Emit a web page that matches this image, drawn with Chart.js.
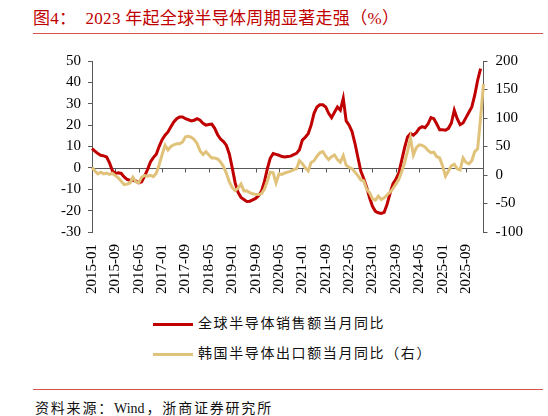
<!DOCTYPE html>
<html>
<head>
<meta charset="utf-8">
<script src="https://cdn.jsdelivr.net/npm/chart.js@4"></script>
<style>
  body { margin: 0; background: #fff; }
  #page { position: relative; width: 548px; height: 416px; overflow: hidden; font-family: "Liberation Serif", "Noto Sans CJK SC", serif; }
  #title { position: absolute; left: 33px; top: 4px; font-size: 17px; color: #C00000; white-space: pre; letter-spacing: 0.3px; }
  .rule { position: absolute; left: 33px; width: 510px; height: 1px; background: #D9534F; }
  #wrap { position: absolute; left: 0; top: 40px; width: 548px; height: 270px; }
  #legend { position: absolute; left: 153px; top: 314px; }
  .item { position: relative; height: 30px; font-size: 14px; letter-spacing: 1.6px; color: #111; }
  .item i { position: absolute; left: 0; top: 9px; width: 40px; height: 3px; }
  .item span { position: absolute; left: 45px; top: 0; line-height: 20px; white-space: nowrap; }
  #source { position: absolute; left: 35px; top: 397px; font-size: 14px; letter-spacing: 1.8px; color: #111; white-space: nowrap; }
  #source b { font-weight: normal; letter-spacing: 0; margin-right: 2px; }
</style>
</head>
<body>
<div id="page">
  <div id="title">图4：  2023 年起全球半导体周期显著走强（%）</div>
  <div class="rule" style="top:33px"></div>
  <div id="wrap"><canvas id="chart"></canvas></div>
  <div id="legend"></div>
  <div class="rule" style="top:389px"></div>
  <div id="source">资料来源：<b>Wind</b>，浙商证券研究所</div>
</div>
<script>
// 月份 2015-01 ~ 2026-03
const months = [];
for (let y = 2015; y <= 2026; y++) {
  for (let m = 1; m <= 12; m++) {
    if (months.length < 135) months.push(y + "-" + String(m).padStart(2, "0"));
  }
}

// 全球半导体销售额当月同比（左轴，%）
const globalSales = [
  9, 7.8, 6.7, 5.9, 5.6, 5.1, 2.3, -1.4, -2.6, -2.3,
  -2.6, -4.2, -5.4, -5.8, -5.8, -6.1, -7, -6.5, -3.9, -0.8,
  2.8, 4.8, 6.4, 10.1, 13.2, 15.3, 16.8, 19.2, 21.5, 23,
  23.8, 23.8, 23, 22.5, 22, 22.3, 23, 22.3, 20.8, 20,
  20.3, 20.5, 18.5, 15.5, 13.5, 12.3, 10.5, 6.5, 0, -7,
  -11.5, -13.8, -14.8, -15.7, -15.6, -15, -14.3, -13, -11, -6.5,
  -0.5, 4.5, 6.7, 6.3, 5.9, 5.3, 5.1, 5.3, 5.5, 6.2,
  6.8, 8.5, 13, 14.3, 16, 20, 25.5, 28.5, 29.5, 29.5,
  28.5, 25.5, 23.5, 26, 28.5, 27, 32.5, 22, 20, 17,
  11.5, 5, -1.5, -5, -9, -14, -18, -20.3, -21, -21.3,
  -20.8, -17, -12, -7.5, -5.3, -2.5, 3.5, 9.5, 14.5, 16,
  15.3, 16.5, 18.5, 19.3, 18.8, 20.5, 23.5, 23, 20.5, 17.8,
  17.8, 17.6, 18.5, 21, 27, 23, 20.2, 21, 23.5, 26,
  28.5, 34, 41, 46.4
];

// 韩国半导体出口额当月同比（右轴，%）
const koreaExports = [
  13, 7, 2, 5, 2, 3.5, 1, 3, -1, -5,
  -11, -17, -16, -14, -4, -12, -13.5, -4, -1, -2,
  -0.5, -3, 3, 18, 36, 52, 44, 50, 53, 54.7,
  55, 58, 67, 68, 66, 62, 55, 42, 36, 41,
  35, 30, 30, 28, 23, 15, 3, -12, -22, -27,
  -23, -16, -28, -27.5, -31, -33, -34, -34.4, -33, -25,
  -11, 5, 4, -13.8, 2, 1, 3.5, 5, 6.6, 9.5,
  11, 25, 20, 12.5, 7, 22, 25, 33, 39, 41,
  33, 27, 32, 35, 27, 22.5, 34, 17, 13.6, 11,
  5, -1, -8.5, -10, -25, -31, -42, -44, -37, -43,
  -40, -35, -30, -24, -16, -8, 6, 22, 42, 65,
  35, 48, 53, 52, 49, 43, 39, 40, 32, 30,
  16, -2, 7, 16, 19, 11, 9, 30, 22, 19.5,
  25, 41, 46, 100, 160
];

const seriesNames = ["全球半导体销售额当月同比", "韩国半导体出口额当月同比（右）"];
const seriesColors = ["#C00000", "#E0C27A"];

const axisColor = "#595959";
const tickFont = { family: "Liberation Serif", size: 15 };

// 零轴与刻度
const zeroLine = {
  id: "zeroLine",
  beforeDatasetsDraw(chart) {
    const { ctx, chartArea, scales } = chart;
    const y0 = Math.round(scales.y.getPixelForValue(0)) + 0.5;
    ctx.save();
    ctx.strokeStyle = axisColor;
    ctx.lineWidth = 1;
    ctx.beginPath();
    ctx.moveTo(chartArea.left, y0);
    ctx.lineTo(chartArea.right, y0);
    months.forEach((m, i) => {
      if (i % 8 === 0 && i > 0) {
        const x = Math.round(scales.x.getPixelForValue(i)) + 0.5;
        ctx.moveTo(x, y0);
        ctx.lineTo(x, y0 + 4);
      }
    });
    ctx.stroke();
    ctx.restore();
  }
};

const ctx = document.getElementById("chart").getContext("2d");
new Chart(ctx, {
  type: "line",
  data: {
    labels: months,
    datasets: [
      {
        label: seriesNames[0],
        data: globalSales,
        yAxisID: "y",
        borderColor: seriesColors[0],
        borderWidth: 3,
        pointRadius: 0,
        tension: 0,
        order: 1
      },
      {
        label: seriesNames[1],
        data: koreaExports,
        yAxisID: "y1",
        borderColor: seriesColors[1],
        borderWidth: 3,
        pointRadius: 0,
        tension: 0,
        order: 0
      }
    ]
  },
  options: {
    responsive: true,
    maintainAspectRatio: false,
    animation: false,
    layout: { padding: { top: 21, left: 0, right: 0, bottom: 0 } },
    plugins: {
      legend: { display: false },
      tooltip: { enabled: false }
    },
    scales: {
      x: {
        offset: false,
        grid: { display: false, drawTicks: false },
        border: { display: false },
        ticks: {
          autoSkip: false,
          maxRotation: 90,
          minRotation: 90,
          padding: 12,
          font: tickFont,
          color: "#000",
          callback: (v, i) => (i % 8 === 0 ? months[i] : "")
        },
        afterFit: s => { s.height = 78; }
      },
      y: {
        position: "left",
        min: -30,
        max: 50,
        ticks: { stepSize: 10, padding: 7, font: tickFont, color: "#000" },
        grid: { drawOnChartArea: false, drawTicks: true, tickLength: 4, color: axisColor },
        border: { color: axisColor, width: 1 },
        afterFit: s => { s.width = 92; }
      },
      y1: {
        position: "right",
        min: -100,
        max: 200,
        ticks: { stepSize: 50, padding: 8, font: tickFont, color: "#000" },
        grid: { drawOnChartArea: false, drawTicks: true, tickLength: 4, color: axisColor },
        border: { color: axisColor, width: 1 },
        afterFit: s => { s.width = 64.5; }
      }
    }
  },
  plugins: [zeroLine]
});

// 图例
const legend = document.getElementById("legend");
seriesNames.forEach((name, i) => {
  const item = document.createElement("div");
  item.className = "item";
  item.innerHTML = '<i style="background:' + seriesColors[i] + '"></i><span>' + name + "</span>";
  legend.appendChild(item);
});
</script>
</body>
</html>
